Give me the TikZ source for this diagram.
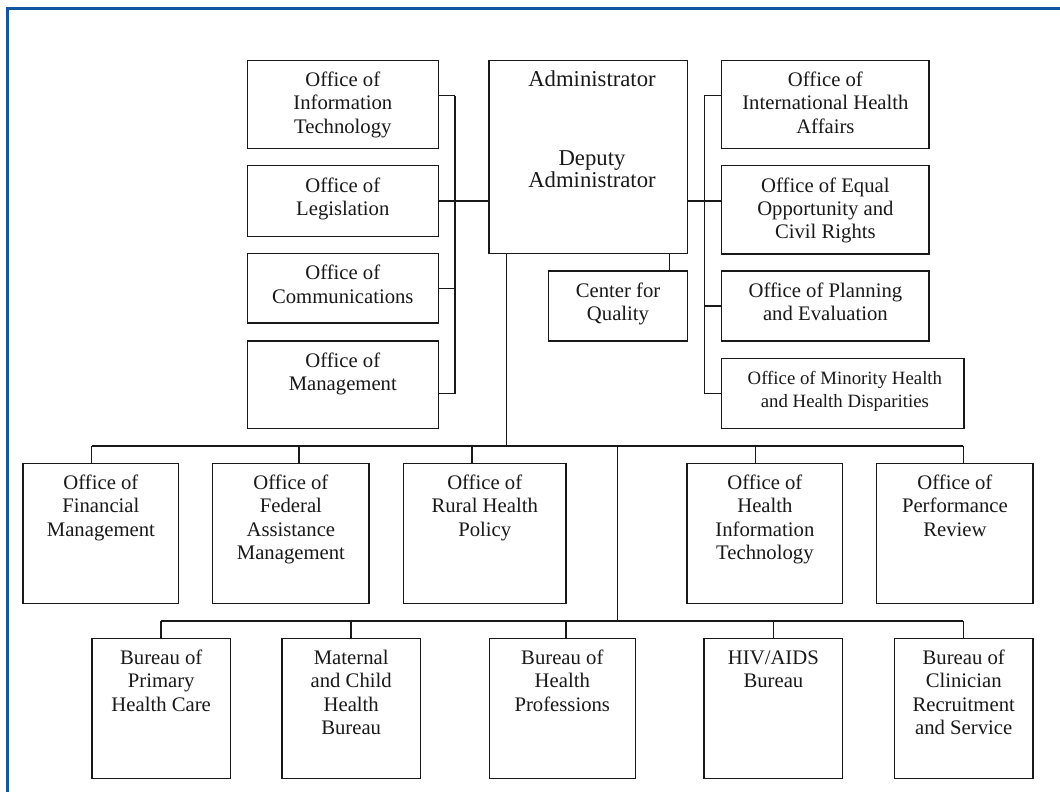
\documentclass[tikz,border=0pt]{standalone}
\usepackage{fontspec}
\setmainfont{Liberation Serif}
\definecolor{frameblue}{RGB}{18,86,160}
\definecolor{ink}{RGB}{25,25,25}
\newcommand\boxlines[1]{\parbox[t]{260pt}{\centering #1}}
\tikzset{
  orgbox/.style={draw=ink, line width=1.3pt, rectangle, inner sep=0pt},
  lbl/.style={anchor=base, inner sep=0pt, text=ink, font=\fontsize{20.7}{23.3}\selectfont},
  smalllbl/.style={anchor=base, inner sep=0pt, text=ink, font=\fontsize{18.8}{23.3}\selectfont},
  biglbl/.style={anchor=base, inner sep=0pt, text=ink, font=\fontsize{22.7}{22.7}\selectfont},
  conn/.style={draw=ink, line width=1.3pt}
}
\begin{document}
\begin{tikzpicture}[x=1pt,y=-1pt]
\useasboundingbox (0,0) rectangle (1060,792);
\fill[white] (0,0) rectangle (1060,792);
% frame
\draw[frameblue, line width=3pt] (7.3,800) -- (7.3,8.2) -- (1070,8.2);

% top left column
\node[orgbox, minimum width=191pt, minimum height=88pt] (oit) at (342.8,104.3) {};
\node[orgbox, minimum width=191pt, minimum height=70.6pt] (leg) at (342.8,201) {};
\node[orgbox, minimum width=191pt, minimum height=69.7pt] (comm) at (342.8,288.2) {};
\node[orgbox, minimum width=191pt, minimum height=87.3pt] (mgmt) at (342.8,384.7) {};
% admin
\node[orgbox, minimum width=198.3pt, minimum height=193pt] (admin) at (588.2,156.8) {};
% right column
\node[orgbox, minimum width=207.3pt, minimum height=88pt] (oiha) at (825.4,104.3) {};
\node[orgbox, minimum width=207.3pt, minimum height=88.3pt] (eeo) at (825.4,209.9) {};
\node[orgbox, minimum width=207.3pt, minimum height=70pt] (ope) at (825.4,306) {};
\node[orgbox, minimum width=242.3pt, minimum height=69.6pt] (omh) at (842.9,393.5) {};
\node[orgbox, minimum width=138.6pt, minimum height=70pt] (cfq) at (618,306) {};
% row 1
\node[orgbox, minimum width=155.7pt, minimum height=140.4pt] (fin) at (100.9,533.5) {};
\node[orgbox, minimum width=156.3pt, minimum height=140.4pt] (fed) at (290.9,533.5) {};
\node[orgbox, minimum width=162.7pt, minimum height=140.4pt] (rural) at (484.7,533.5) {};
\node[orgbox, minimum width=155.7pt, minimum height=140.4pt] (hit) at (764.9,533.5) {};
\node[orgbox, minimum width=156.3pt, minimum height=140.4pt] (perf) at (954.9,533.5) {};
% row 2
\node[orgbox, minimum width=138.3pt, minimum height=140pt] (bphc) at (161.2,708.7) {};
\node[orgbox, minimum width=138.3pt, minimum height=140pt] (mch) at (351.2,708.7) {};
\node[orgbox, minimum width=146pt, minimum height=140pt] (bhp) at (562.3,708.7) {};
\node[orgbox, minimum width=138.7pt, minimum height=140pt] (hab) at (773.4,708.7) {};
\node[orgbox, minimum width=138.7pt, minimum height=140pt] (bcrs) at (963.7,708.7) {};

% labels
\node[lbl] (toit) at ([yshift=-27pt]oit.north) {\boxlines{Office of\\Information\\Technology}};
\node[lbl] (tleg) at ([yshift=-27pt]leg.north) {\boxlines{Office of\\Legislation}};
\node[lbl] (tcomm) at ([yshift=-27pt]comm.north) {\boxlines{Office of\\Communications}};
\node[lbl] (tmgmt) at ([yshift=-27pt]mgmt.north) {\boxlines{Office of\\Management}};
\node[biglbl] (tadm) at (592,86.7) {Administrator};
\node[biglbl] (tdep) at (592,165) {\boxlines{Deputy\\Administrator}};
\node[lbl] (toiha) at ([yshift=-27pt]oiha.north) {\boxlines{Office of\\International Health\\Affairs}};
\node[lbl] (teeo) at ([yshift=-27pt]eeo.north) {\boxlines{Office of Equal\\Opportunity and\\Civil Rights}};
\node[lbl] (tope) at ([yshift=-27pt]ope.north) {\boxlines{Office of Planning\\and Evaluation}};
\node[smalllbl] (tomh) at ([xshift=2pt,yshift=-26.3pt]omh.north) {\boxlines{Office of Minority Health\\and Health Disparities}};
\node[lbl] (tcfq) at ([yshift=-27pt]cfq.north) {\boxlines{Center for\\Quality}};
\node[lbl] (tfin) at ([yshift=-27pt]fin.north) {\boxlines{Office of\\Financial\\Management}};
\node[lbl] (tfed) at ([yshift=-27pt]fed.north) {\boxlines{Office of\\Federal\\Assistance\\Management}};
\node[lbl] (trural) at ([yshift=-27pt]rural.north) {\boxlines{Office of\\Rural Health\\Policy}};
\node[lbl] (thit) at ([yshift=-27pt]hit.north) {\boxlines{Office of\\Health\\Information\\Technology}};
\node[lbl] (tperf) at ([yshift=-27pt]perf.north) {\boxlines{Office of\\Performance\\Review}};
\node[lbl] (tbphc) at ([yshift=-26.5pt]bphc.north) {\boxlines{Bureau of\\Primary\\Health Care}};
\node[lbl] (tmch) at ([yshift=-26.5pt]mch.north) {\boxlines{Maternal\\and Child\\Health\\Bureau}};
\node[lbl] (tbhp) at ([yshift=-26.5pt]bhp.north) {\boxlines{Bureau of\\Health\\Professions}};
\node[lbl] (thab) at ([yshift=-26.5pt]hab.north) {\boxlines{HIV/AIDS\\Bureau}};
\node[lbl] (tbcrs) at ([yshift=-26.5pt]bcrs.north) {\boxlines{Bureau of\\Clinician\\Recruitment\\and Service}};

% left bracket
\coordinate (lt) at (455,95.7);
\coordinate (lb) at (455,393.7);
\draw[conn] (lt) -- (lb);
\draw[conn] (oit.east |- lt) -- (lt);
\draw[conn] (leg.east) -- (admin.west |- leg.east);
\draw[conn] (comm.east) -- (comm.east -| lt);
\draw[conn] (mgmt.east |- lb) -- (lb);
% right bracket
\coordinate (rt) at (704.3,95.7);
\coordinate (rb) at (704.3,393.7);
\draw[conn] (rt) -- (rb);
\draw[conn] (rt) -- (oiha.west |- rt);
\draw[conn] (admin.east |- leg.east) -- (eeo.west |- leg.east);
\draw[conn] (ope.west) -- (ope.west -| rt);
\draw[conn] (rb) -- (omh.west |- rb);
% center for quality
\coordinate (cq) at (669.7,271);
\draw[conn] (cq |- admin.south) -- (cq);
% main trunk
\coordinate (m1) at (506.7,446);
\draw[conn] (admin.south -| m1) -- (m1);
% bus 1
\coordinate (s11) at (91.7,446);
\coordinate (s12) at (299,446);
\coordinate (s13) at (472,446);
\coordinate (s14) at (755.7,446);
\coordinate (s15) at (963.3,446);
\draw[conn] (s11) -- (s15);
\draw[conn] (s11) -- (s11 |- fin.north);
\draw[conn] (s12) -- (s12 |- fed.north);
\draw[conn] (s13) -- (s13 |- rural.north);
\draw[conn] (s14) -- (s14 |- hit.north);
\draw[conn] (s15) -- (s15 |- perf.north);
% trunk down
\coordinate (m2) at (617.3,446);
\coordinate (m3) at (617.3,621);
\draw[conn] (m2) -- (m3);
% bus 2
\coordinate (s21) at (161,621);
\coordinate (s22) at (351,621);
\coordinate (s23) at (566,621);
\coordinate (s24) at (773.3,621);
\coordinate (s25) at (963.3,621);
\draw[conn] (s21) -- (s25);
\draw[conn] (s21) -- (s21 |- bphc.north);
\draw[conn] (s22) -- (s22 |- mch.north);
\draw[conn] (s23) -- (s23 |- bhp.north);
\draw[conn] (s24) -- (s24 |- hab.north);
\draw[conn] (s25) -- (s25 |- bcrs.north);
\end{tikzpicture}
\end{document}
